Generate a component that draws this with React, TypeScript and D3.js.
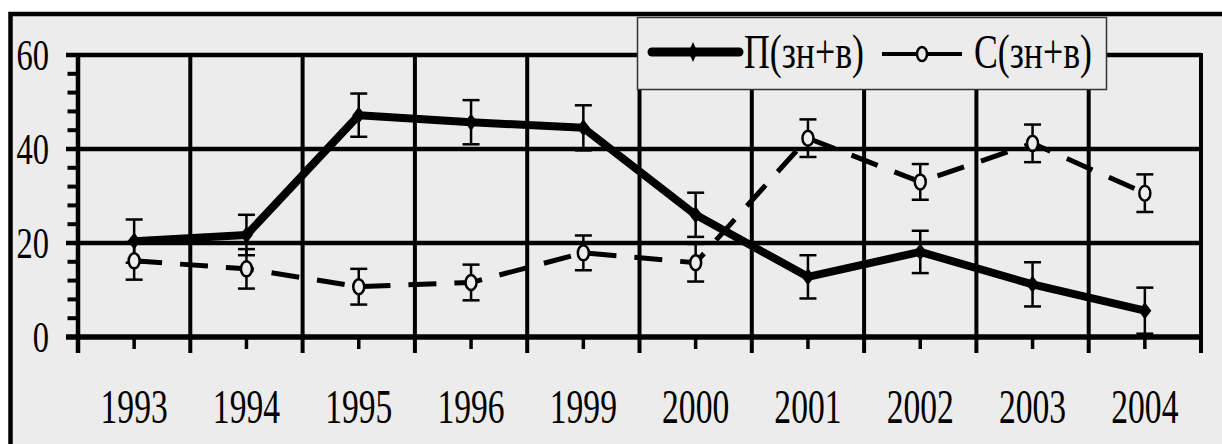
import React from 'react'
import * as d3 from 'd3'

const categories = ['1993', '1994', '1995', '1996', '1999', '2000', '2001', '2002', '2003', '2004']
const pValues = [20.4, 21.7, 47.2, 45.7, 44.5, 26.0, 12.8, 18.1, 11.2, 5.6]
const pErrors = [4.6, 4.3, 4.6, 4.7, 4.8, 4.7, 4.6, 4.5, 4.7, 4.9]
const cValues = [16.2, 14.5, 10.7, 11.6, 17.9, 15.8, 42.3, 33.0, 41.2, 30.6]
const cErrors = [4.0, 4.2, 3.8, 3.8, 3.7, 4.0, 4.0, 3.8, 4.0, 4.0]
const yTicks = [0, 20, 40, 60]
const seriesNames = ['П(зн+в)', 'С(зн+в)']

const W = 1222, H = 444
const left = 78, right = 1201, top = 55, bottom = 337
const bg = '#ececec'

export default function App() {
  const x = d3.scaleBand<string>().domain(categories).range([left, right]).padding(0)
  const y = d3.scaleLinear().domain([0, 60]).range([bottom, top])
  const cx = (c: string) => (x(c) as number) + x.bandwidth() / 2

  const minor = d3.range(0, 61, 4).filter(v => v % 20 !== 0)
  const bounds = categories.map(c => x(c) as number).concat([right])

  const line = d3.line<number>().x((d, i) => cx(categories[i])).y(d => y(d))

  const diamond = (px: number, py: number, w: number, h: number) =>
    `M${px},${py - h / 2}L${px + w / 2},${py}L${px},${py + h / 2}L${px - w / 2},${py}Z`

  const errBar = (vals: number[], errs: number[], key: string) =>
    vals.map((v, i) => {
      const px = cx(categories[i])
      const y1 = y(v + errs[i]), y2 = y(v - errs[i])
      return (
        <g key={key + i} stroke="#000" strokeWidth={2.5}>
          <line x1={px} x2={px} y1={y1} y2={y2} />
          <line x1={px - 8.5} x2={px + 8.5} y1={y1} y2={y1} />
          <line x1={px - 8.5} x2={px + 8.5} y1={y2} y2={y2} />
        </g>
      )
    })

  const txt = { fontFamily: '"Liberation Serif"' }

  return (
    <div style={{ position: 'absolute', left: 0, top: 0 }}>
      <svg width={W} height={H} style={{ display: 'block', background: '#fff' }}>
        {/* outer frame */}
        <rect x={10.5} y={14} width={1260} height={480} fill={bg} stroke="#000" strokeWidth={4.5} />

        {/* horizontal grid */}
        {yTicks.map(t => (
          <line key={'h' + t} x1={66} x2={right} y1={y(t)} y2={y(t)} stroke="#000" strokeWidth={t === 0 ? 5.5 : 4.5} />
        ))}
        {/* minor y ticks */}
        {minor.map(t => (
          <line key={'m' + t} x1={67.5} x2={left} y1={y(t)} y2={y(t)} stroke="#000" strokeWidth={4} />
        ))}
        {/* vertical grid at category bounds */}
        {bounds.map((b, i) => (
          <line key={'v' + i} x1={b} x2={b} y1={top - 2} y2={353} stroke="#000" strokeWidth={i === 0 ? 4.5 : 4} />
        ))}
        {/* category center ticks */}
        {categories.map(c => (
          <line key={'t' + c} x1={cx(c)} x2={cx(c)} y1={bottom} y2={349} stroke="#000" strokeWidth={3.5} />
        ))}

        {/* y labels */}
        {yTicks.map(t => (
          <text key={'yl' + t} transform={`translate(49,${y(t) + 15}) scale(0.74,1)`} textAnchor="end"
            style={txt} fontSize={44} fill="#000">{t}</text>
        ))}
        {/* x labels */}
        {categories.map(c => (
          <text key={'xl' + c} transform={`translate(${cx(c)},423) scale(0.7,1)`} textAnchor="middle"
            style={txt} fontSize={48} fill="#000">{c}</text>
        ))}

        {/* error bars */}
        {errBar(pValues, pErrors, 'pe')}
        {errBar(cValues, cErrors, 'ce')}

        {/* series lines */}
        <path d={line(cValues) || ''} fill="none" stroke="#000" strokeWidth={5} strokeDasharray="28,18" />
        <path d={line(pValues) || ''} fill="none" stroke="#000" strokeWidth={8} strokeLinejoin="round" />

        {/* markers */}
        {pValues.map((v, i) => (
          <path key={'pm' + i} d={diamond(cx(categories[i]), y(v), 13, 17)} fill="#000" />
        ))}
        {cValues.map((v, i) => (
          <ellipse key={'cm' + i} cx={cx(categories[i])} cy={y(v)} rx={5.5} ry={7.5} fill={bg} stroke="#000" strokeWidth={2.5} />
        ))}

        {/* legend */}
        <rect x={637.5} y={17.5} width={469} height={72} fill={bg} stroke="#333" strokeWidth={1.5} />
        <line x1={652} x2={739} y1={52} y2={52} stroke="#000" strokeWidth={9} strokeLinecap="round" />
        <path d={diamond(693, 52, 9, 20)} fill="#000" />
        <text transform="translate(744,68) scale(0.745,1)" style={txt} fontSize={48} fill="#000">{seriesNames[0]}</text>
        <line x1={882} x2={962} y1={54} y2={54} stroke="#000" strokeWidth={4} />
        <ellipse cx={922} cy={54} rx={5} ry={7} fill={bg} stroke="#000" strokeWidth={2.5} />
        <text transform="translate(974,68) scale(0.745,1)" style={txt} fontSize={48} fill="#000">{seriesNames[1]}</text>
      </svg>
    </div>
  )
}
